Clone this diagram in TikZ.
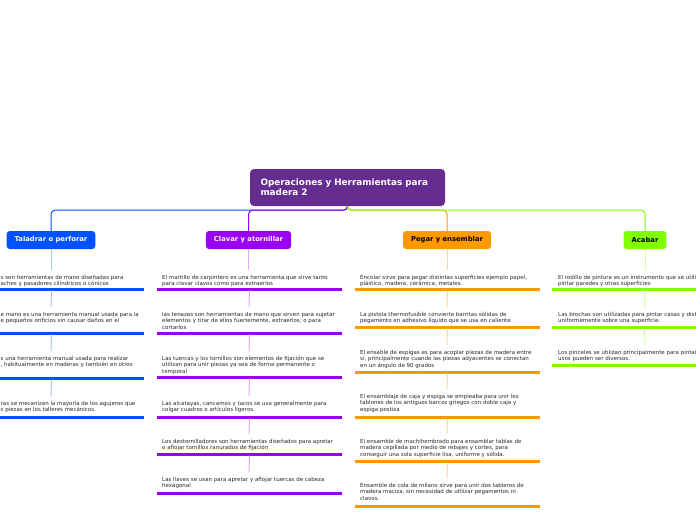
\documentclass[tikz,border=0pt]{standalone}
\usepackage{fontspec}
\setmainfont{DejaVu Sans}
\definecolor{cRoot}{RGB}{102,45,145}
\definecolor{cB}{RGB}{0,82,255}
\definecolor{cBl}{RGB}{166,196,250}
\definecolor{cP}{RGB}{155,0,245}
\definecolor{cPl}{RGB}{222,172,250}
\definecolor{cO}{RGB}{255,153,0}
\definecolor{cOl}{RGB}{255,215,160}
\definecolor{cG}{RGB}{127,255,0}
\definecolor{cGl}{RGB}{206,255,160}
\definecolor{cTxt}{RGB}{40,40,40}
\begin{document}
\begin{tikzpicture}[x=1pt,y=-1pt,
  rootbox/.style={fill=cRoot, rounded corners=4pt, text=white, font=\bfseries\fontsize{8.85}{10}\selectfont, align=left, text width=174pt, inner xsep=10.5pt, minimum height=37pt},
  hdr/.style={rounded corners=3pt, font=\bfseries\fontsize{6.8}{8}\selectfont, inner xsep=8pt, inner ysep=0pt, minimum height=18pt},
  itxt/.style={anchor=base west, inner sep=0pt, align=left, text=cTxt, font=\fontsize{5.5}{6.5}\selectfont},
  barnode/.style={minimum width=185pt, minimum height=3pt, inner sep=0pt, outer sep=0pt},
  link/.style={line width=1pt},
  trunk/.style={line width=1pt, rounded corners=4pt}
]
\useasboundingbox (0,0) rectangle (696,520);
\fill[white] (0,0) rectangle (696,520);
\clip (0,0) rectangle (696,520);

% root and headers
\node[rootbox] (root) at (347.5,187.5) {Operaciones y Herramientas para\\madera 2};
\node[hdr, fill=cB, text=white] (hB) at (51,240) {Taladrar o perforar};
\node[hdr, fill=cP, text=white] (hP) at (248.5,240) {Clavar y atornillar};
\node[hdr, fill=cO, text=black] (hO) at (447,240) {Pegar y ensemblar};
\node[hdr, fill=cG, text=black] (hG) at (645,240) {Acabar};

% trunks
\draw[trunk, cB] (root.south) -- ++(0,4) -| (hB.north);
\draw[trunk, cP] (root.south) -- ++(0,4) -| (hP.north);
\draw[trunk, cO] (root.south) -- ++(0,4) -| (hO.north);
\draw[trunk, cG] (root.south) -- ++(0,4) -| (hG.north);

% ---- column 1 (blue)
\node[itxt] (b1) at (0.5,285.5) {s son herramientas de mano diseñadas para\\aches y pasadores cilíndricos o cónicos};
\node[barnode, fill=cB] (bb1) at (51.5,289) {};
\node[itxt] (b2) at (0.5,322.5) {e mano es una herramienta manual usada para la\\e pequeños orificios sin causar daños en el};
\node[barnode, fill=cB] (bb2) at (51.5,333) {};
\node[itxt] (b3) at (0.5,366.5) {s una herramienta manual usada para realizar\\, habitualmente en maderas y también en otros};
\node[barnode, fill=cB] (bb3) at (51.5,378) {};
\node[itxt] (b4) at (0.5,411.5) {ras se mecanizan la mayoría de los agujeros que\\s piezas en los talleres mecánicos.};
\node[barnode, fill=cB] (bb4) at (51.5,417) {};
\draw[link, cBl] (hB.south) -- (51,270);
\draw[link, cBl] (bb1.south) -- (51,307);
\draw[link, cBl] (bb2.south) -- (51,351);
\draw[link, cBl] (bb3.south) -- (51,396);

% ---- column 2 (purple)
\node[itxt] (p1) at (162,285.5) {El martillo de carpintero es una herramienta que sirve tanto\\para clavar clavos como para extraerlos};
\node[barnode, fill=cP] (pb1) at (249.5,289) {};
\node[itxt] (p2) at (162,329) {las tenazas son herramientas de mano que sirven para sujetar\\elementos y tirar de ellos fuertemente, extraerlos, o para\\cortarlos};
\node[barnode, fill=cP] (pb2) at (249.5,333) {};
\node[itxt] (p3) at (162,373) {Las tuercas y los tornillos son elementos de fijación que se\\utilizan para unir piezas ya sea de forma permanente o\\temporal};
\node[barnode, fill=cP] (pb3) at (249.5,377) {};
\node[itxt] (p4) at (162,411.5) {Las alcatayas, cancamos y tacos se usa generalmente para\\colgar cuadros o artículos ligeros.};
\node[barnode, fill=cP] (pb4) at (249.5,417) {};
\node[itxt] (p5) at (162,449.5) {Los destornilladores son herramientas diseñados para apretar\\o aflojar tornillos ranurados de fijación};
\node[barnode, fill=cP] (pb5) at (249.5,454) {};
\node[itxt] (p6) at (162,487.5) {Las llaves se usan para apretar y aflojar tuercas de cabeza\\hexagonal};
\node[barnode, fill=cP] (pb6) at (249.5,493) {};
\draw[link, cPl] (hP.south) -- (hP.south |- 0,270);
\draw[link, cPl] (pb1.south) -- (249,307);
\draw[link, cPl] (pb2.south) -- (249,351);
\draw[link, cPl] (pb3.south) -- (249,396);
\draw[link, cPl] (pb4.south) -- (249,434);
\draw[link, cPl] (pb5.south) -- (249,472);

% ---- column 3 (orange)
\node[itxt] (o1) at (360,285.5) {Encolar sirve para pegar distintas superficies ejemplo papel,\\plástico, madera, cerámica, metales.};
\node[barnode, fill=cO] (ob1) at (447.5,289) {};
\node[itxt] (o2) at (360,322.5) {La pistola thermofusible convierte barritas sólidas de\\pegamento en adhesivo líquido que se usa en caliente};
\node[barnode, fill=cO] (ob2) at (447.5,327) {};
\node[itxt] (o3) at (360,367) {El ensable de espigas es para acoplar piezas de madera entre\\sí, principalmente cuando las piezas adyacentes se conectan\\en un ángulo de 90 grados};
\node[barnode, fill=cO] (ob3) at (447.5,372) {};
\node[itxt] (o4) at (360,411) {El ensamblaje de caja y espiga se empleaba para unir los\\tablones de los antiguos barcos griegos con doble caja y\\espiga postiza};
\node[barnode, fill=cO] (ob4) at (447.5,417) {};
\node[itxt] (o5) at (360,456) {El ensamble de machihembrado para ensamblar tablas de\\madera cepillada por medio de rebajes y cortes, para\\conseguir una sola superficie lisa, uniforme y sólida.};
\node[barnode, fill=cO] (ob5) at (447.5,461) {};
\node[itxt] (o6) at (360,500) {Ensamble de cola de milano sirve para unir dos tableros de\\madera maciza, sin necesidad de utilizar pegamentos ni\\clavos.};
\node[barnode, fill=cO] (ob6) at (447.5,506) {};
\draw[link, cOl] (hO.south) -- (447,270);
\draw[link, cOl] (ob1.south) -- (447,307);
\draw[link, cOl] (ob2.south) -- (447,345);
\draw[link, cOl] (ob3.south) -- (447,389);
\draw[link, cOl] (ob4.south) -- (447,434);
\draw[link, cOl] (ob5.south) -- (447,478);

% ---- column 4 (green)
\node[itxt] (g1) at (558,285.5) {El rodillo de pintura es un instrumento que se utili\\pintar paredes y otras superficies};
\node[barnode, fill=cG] (gb1) at (644.5,289) {};
\node[itxt] (g2) at (558,322.5) {Las brochas son utilizadas para pintar casas y dist\\uniformemente sobre una superficie.};
\node[barnode, fill=cG] (gb2) at (644.5,327) {};
\node[itxt] (g3) at (558,360.5) {Los pinceles se utilizan principalmente para pintar,\\usos pueden ser diversos.};
\node[barnode, fill=cG] (gb3) at (644.5,365) {};
\draw[link, cGl] (hG.south) -- (645,270);
\draw[link, cGl] (gb1.south) -- (645,307);
\draw[link, cGl] (gb2.south) -- (645,345);
\end{tikzpicture}
\end{document}
